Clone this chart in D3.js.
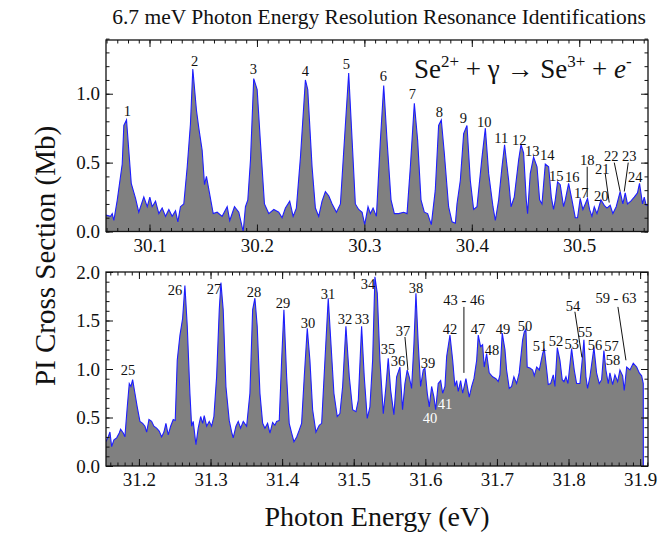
<!DOCTYPE html>
<html>
<head>
<meta charset="utf-8">
<script src="https://cdn.jsdelivr.net/npm/d3@7"></script>
<style>
  body { margin: 0; background: #fff; }
  svg text { font-family: "Liberation Serif", "Times New Roman", serif; fill: #111; }
</style>
</head>
<body>
<svg id="chart" width="660" height="535"></svg>
<script>
(function () {
    "use strict";

    // ---- top panel spectrum (30.06 - 30.56 eV) ----
    var topEnergy = [
        30.0591, 30.0637, 30.0653, 30.0668, 30.0700, 30.0746, 30.0761, 30.0786, 30.0807, 30.0830,
        30.0870, 30.0900, 30.0947, 30.0979, 30.1003, 30.1025, 30.1056, 30.1087, 30.1118, 30.1149,
        30.1180, 30.1211, 30.1242, 30.1264, 30.1288, 30.1319, 30.1351, 30.1381, 30.1403, 30.1437,
        30.1459, 30.1490, 30.1512, 30.1530, 30.1558, 30.1593, 30.1630, 30.1676, 30.1723, 30.1747,
        30.1791, 30.1831, 30.1872, 30.1893, 30.1915, 30.1940, 30.1970, 30.2002, 30.2033, 30.2070,
        30.2110, 30.2157, 30.2203, 30.2234, 30.2265, 30.2305, 30.2337, 30.2367, 30.2405, 30.2451,
        30.2473, 30.2513, 30.2544, 30.2575, 30.2606, 30.2637, 30.2668, 30.2700, 30.2740, 30.2777,
        30.2814, 30.2854, 30.2886, 30.2916, 30.2947, 30.2979, 30.3003, 30.3034, 30.3056, 30.3081,
        30.3112, 30.3149, 30.3180, 30.3211, 30.3248, 30.3279, 30.3319, 30.3366, 30.3397, 30.3428,
        30.3465, 30.3496, 30.3527, 30.3558, 30.3589, 30.3623, 30.3660, 30.3691, 30.3716, 30.3744,
        30.3784, 30.3816, 30.3847, 30.3862, 30.3893, 30.3924, 30.3955, 30.3986, 30.4017, 30.4048,
        30.4095, 30.4126, 30.4157, 30.4197, 30.4219, 30.4250, 30.4281, 30.4305, 30.4343, 30.4365,
        30.4395, 30.4436, 30.4458, 30.4482, 30.4507, 30.4519, 30.4544, 30.4575, 30.4607, 30.4631,
        30.4653, 30.4684, 30.4715, 30.4740, 30.4761, 30.4777, 30.4798, 30.4823, 30.4854, 30.4870,
        30.4901, 30.4932, 30.4963, 30.4984, 30.5009, 30.5034, 30.5056, 30.5077, 30.5096, 30.5118,
        30.5140, 30.5165, 30.5202, 30.5233, 30.5258, 30.5288, 30.5313, 30.5344, 30.5381, 30.5406,
        30.5428, 30.5449, 30.5480, 30.5512, 30.5542, 30.5561, 30.5589, 30.5605, 30.5623, 30.5645
    ];
    var topSignal = [
        0.12, 0.11, 0.13, 0.08, 0.23, 0.49, 0.77, 0.81, 0.59, 0.35,
        0.24, 0.14, 0.25, 0.18, 0.25, 0.18, 0.22, 0.13, 0.17, 0.11,
        0.16, 0.11, 0.15, 0.07, 0.18, 0.20, 0.47, 0.78, 1.18, 0.88,
        0.75, 0.59, 0.34, 0.40, 0.28, 0.13, 0.14, 0.11, 0.18, 0.08,
        0.18, 0.14, 0.00, 0.18, 0.23, 0.52, 1.11, 1.03, 0.64, 0.20,
        0.13, 0.16, 0.14, 0.10, 0.17, 0.22, 0.11, 0.17, 0.54, 1.10,
        1.03, 0.47, 0.17, 0.11, 0.22, 0.29, 0.26, 0.20, 0.14, 0.20,
        0.66, 1.15, 0.66, 0.20, 0.16, 0.14, 0.05, 0.18, 0.13, 0.17,
        0.11, 0.66, 1.06, 0.66, 0.23, 0.13, 0.13, 0.14, 0.13, 0.47,
        0.93, 0.66, 0.23, 0.14, 0.13, 0.05, 0.30, 0.77, 0.81, 0.57,
        0.18, 0.07, 0.06, 0.20, 0.37, 0.71, 0.77, 0.37, 0.16, 0.18,
        0.54, 0.75, 0.42, 0.18, 0.08, 0.23, 0.47, 0.63, 0.37, 0.18,
        0.25, 0.52, 0.63, 0.57, 0.23, 0.13, 0.42, 0.54, 0.47, 0.23,
        0.20, 0.49, 0.47, 0.25, 0.16, 0.23, 0.36, 0.34, 0.18, 0.23,
        0.35, 0.23, 0.10, 0.10, 0.24, 0.16, 0.20, 0.24, 0.16, 0.11,
        0.18, 0.13, 0.23, 0.19, 0.17, 0.19, 0.13, 0.18, 0.29, 0.20,
        0.28, 0.20, 0.22, 0.25, 0.28, 0.35, 0.20, 0.25, 0.19, 0.19
    ];

    // ---- bottom panel spectrum (31.15 - 31.91 eV) ----
    var bottomEnergy = [
        31.1539, 31.1571, 31.1595, 31.1619, 31.1651, 31.1689, 31.1725, 31.1744, 31.1781, 31.1804,
        31.1837, 31.1865, 31.1888, 31.1912, 31.1944, 31.1976, 31.2014, 31.2052, 31.2084, 31.2108,
        31.2140, 31.2177, 31.2209, 31.2247, 31.2283, 31.2317, 31.2349, 31.2377, 31.2409, 31.2443,
        31.2479, 31.2507, 31.2535, 31.2573, 31.2610, 31.2642, 31.2675, 31.2712, 31.2736, 31.2758,
        31.2796, 31.2828, 31.2862, 31.2890, 31.2912, 31.2946, 31.2982, 31.3015, 31.3047, 31.3085,
        31.3122, 31.3145, 31.3177, 31.3215, 31.3261, 31.3295, 31.3317, 31.3355, 31.3387, 31.3420,
        31.3457, 31.3504, 31.3550, 31.3588, 31.3620, 31.3652, 31.3690, 31.3728, 31.3760, 31.3797,
        31.3830, 31.3867, 31.3899, 31.3923, 31.3960, 31.3993, 31.4025, 31.4063, 31.4099, 31.4133,
        31.4165, 31.4203, 31.4239, 31.4272, 31.4309, 31.4351, 31.4388, 31.4426, 31.4472, 31.4518,
        31.4552, 31.4598, 31.4644, 31.4682, 31.4723, 31.4770, 31.4807, 31.4845, 31.4891, 31.4938,
        31.4985, 31.5031, 31.5064, 31.5110, 31.5147, 31.5189, 31.5226, 31.5264, 31.5296, 31.5329,
        31.5366, 31.5413, 31.5450, 31.5482, 31.5516, 31.5561, 31.5599, 31.5645, 31.5682, 31.5715,
        31.5747, 31.5775, 31.5808, 31.5841, 31.5869, 31.5901, 31.5934, 31.5971, 31.5994, 31.6027,
        31.6055, 31.6088, 31.6120, 31.6144, 31.6180, 31.6214, 31.6242, 31.6274, 31.6298, 31.6344,
        31.6382, 31.6413, 31.6437, 31.6460, 31.6493, 31.6522, 31.6567, 31.6613, 31.6647, 31.6679,
        31.6717, 31.6739, 31.6772, 31.6800, 31.6823, 31.6856, 31.6892, 31.6940, 31.6986, 31.7018,
        31.7042, 31.7074, 31.7112, 31.7135, 31.7172, 31.7205, 31.7237, 31.7275, 31.7311, 31.7359,
        31.7381, 31.7405, 31.7423, 31.7461, 31.7499, 31.7521, 31.7555, 31.7592, 31.7639, 31.7661,
        31.7695, 31.7717, 31.7750, 31.7787, 31.7810, 31.7843, 31.7880, 31.7912, 31.7936, 31.7964,
        31.7992, 31.8043, 31.8080, 31.8113, 31.8159, 31.8191, 31.8215, 31.8243, 31.8266, 31.8299,
        31.8355, 31.8392, 31.8429, 31.8462, 31.8494, 31.8522, 31.8555, 31.8578, 31.8616, 31.8648,
        31.8686, 31.8718, 31.8756, 31.8778, 31.8812, 31.8858, 31.8904, 31.8952, 31.8988, 31.9021,
        31.9044, 31.9045
    ];
    var bottomSignal = [
        0.25, 0.30, 0.35, 0.20, 0.27, 0.29, 0.34, 0.38, 0.34, 0.30,
        0.61, 0.85, 0.82, 0.89, 0.75, 0.61, 0.46, 0.44, 0.41, 0.35,
        0.48, 0.46, 0.41, 0.39, 0.36, 0.30, 0.35, 0.44, 0.32, 0.41,
        0.48, 0.47, 1.09, 1.35, 1.52, 1.86, 1.44, 0.75, 0.41, 0.46,
        0.22, 0.39, 0.51, 0.44, 0.52, 0.41, 0.46, 0.41, 0.51, 0.92,
        1.61, 1.89, 1.61, 0.82, 0.47, 0.35, 0.29, 0.41, 0.46, 0.39,
        0.46, 0.41, 0.75, 1.61, 1.73, 1.44, 0.75, 0.44, 0.39, 0.44,
        0.34, 0.45, 0.42, 0.46, 0.47, 1.09, 1.61, 0.92, 0.44, 0.34,
        0.25, 0.30, 0.37, 0.44, 0.92, 1.42, 1.09, 0.58, 0.35, 0.42,
        0.44, 1.09, 1.73, 1.26, 0.75, 0.51, 0.54, 0.82, 1.44, 0.92,
        0.58, 0.56, 0.68, 1.44, 0.92, 0.49, 0.61, 1.09, 1.95, 1.78,
        1.09, 0.54, 0.82, 1.11, 0.78, 0.53, 0.92, 1.02, 0.58, 0.85,
        0.99, 0.92, 0.80, 1.26, 1.78, 1.26, 0.82, 0.99, 1.01, 0.75,
        0.61, 0.82, 0.71, 0.58, 0.85, 0.88, 0.75, 0.82, 1.13, 1.35,
        1.09, 0.82, 0.88, 0.77, 0.88, 0.75, 0.90, 0.71, 0.82, 0.90,
        1.09, 1.35, 1.23, 1.25, 1.02, 1.16, 0.96, 0.92, 0.90, 0.87,
        0.94, 1.37, 1.20, 0.99, 0.80, 0.82, 0.92, 0.85, 0.96, 1.30,
        1.38, 1.41, 1.02, 1.01, 0.99, 0.93, 1.02, 0.99, 1.16, 1.21,
        0.99, 0.84, 0.85, 0.94, 0.82, 1.22, 1.09, 0.89, 0.87, 0.92,
        0.85, 1.21, 0.99, 0.85, 0.85, 1.09, 1.30, 0.92, 0.80, 0.92,
        1.22, 0.96, 0.85, 0.89, 1.19, 0.99, 0.85, 0.96, 0.84, 0.94,
        0.87, 0.99, 0.93, 0.78, 1.02, 0.99, 1.06, 1.02, 0.96, 0.93,
        0.85, 0.00
    ];

    // ---- resonance identifications ----
    var topLabelText = ["1", "2", "3", "4", "5", "6", "7", "8", "9", "10", "11", "12",
        "13", "14", "15", "16", "17", "18", "20", "21", "22", "23", "24"];
    var topLabelEnergy = [30.0795, 30.1419, 30.1967, 30.2451, 30.2833, 30.3177, 30.3447, 30.3698,
        30.3921, 30.4116, 30.4274, 30.4442, 30.4563, 30.4702, 30.4786, 30.4935, 30.5019,
        30.5074, 30.5205, 30.5214, 30.5298, 30.5465, 30.5521];
    var topLabelHeight = [0.84, 1.20, 1.14, 1.13, 1.18, 1.09, 0.96, 0.83, 0.79, 0.76, 0.64, 0.63,
        0.55, 0.52, 0.37, 0.36, 0.24, 0.48, 0.22, 0.42, 0.51, 0.51, 0.36];
    var topLeaders = [
        [30.5074, 0.47, 30.5074, 0.25],
        [30.5242, 0.42, 30.5279, 0.21],
        [30.5326, 0.50, 30.5381, 0.29],
        [30.5456, 0.50, 30.5419, 0.29]
    ];

    var bottomLabelText = ["25", "26", "27", "28", "29", "30", "31", "32", "33", "34", "35", "36",
        "37", "38", "39", "40", "41", "42", "43 - 46", "47", "48", "49", "50", "51", "52", "53",
        "54", "55", "56", "57", "58", "59 - 63"];
    var bottomLabelEnergy = [31.1846, 31.2503, 31.3047, 31.3606, 31.4011, 31.4360, 31.4640, 31.4877,
        31.5115, 31.5198, 31.5478, 31.5617, 31.5687, 31.5869, 31.6036, 31.6064, 31.6274, 31.6344,
        31.6539, 31.6735, 31.6930, 31.7084, 31.7391, 31.7601, 31.7825, 31.8045, 31.8061, 31.8229,
        31.8370, 31.8600, 31.8620, 31.8662];
    var bottomLabelHeight = [0.94, 1.76, 1.77, 1.74, 1.63, 1.42, 1.72, 1.46, 1.46, 1.82, 1.15, 1.03,
        1.34, 1.78, 1.01, 0.44, 0.59, 1.36, 1.66, 1.36, 1.14, 1.36, 1.39, 1.19, 1.24, 1.21,
        1.60, 1.33, 1.20, 1.19, 1.04, 1.68];
    var bottomLabelInside = ["40", "41"];
    var bottomLeaders = [
        [31.5715, 1.33, 31.5757, 0.99],
        [31.6539, 1.64, 31.6539, 0.96],
        [31.8089, 1.59, 31.8187, 1.12],
        [31.8690, 1.64, 31.8802, 1.09]
    ];

    var topXTicks = [30.1, 30.2, 30.3, 30.4, 30.5];
    var bottomXTicks = [31.2, 31.3, 31.4, 31.5, 31.6, 31.7, 31.8, 31.9];
    var topYTicks = [0, 0.5, 1.0];
    var bottomYTicks = [0, 0.5, 1.0, 1.5, 2.0];

    var svg = d3.select('#chart');
    var plotLeft = 106, plotRight = 648;
    var fmt = d3.format('.1f');

    var drawPanel = function (p) {
        var x = d3.scaleLinear().domain(p.xDomain).range([plotLeft, plotRight]);
        var y = d3.scaleLinear().domain(p.yDomain).range([p.bottom, p.top]);
        var $g = svg.append('g');

        var clipId = 'clip-' + p.name;
        svg.append('clipPath').attr('id', clipId)
            .append('rect')
            .attr('x', plotLeft).attr('y', p.top)
            .attr('width', plotRight - plotLeft).attr('height', p.bottom - p.top);

        var pts = p.energy.map(function (e, i) { return [e, p.signal[i]]; });
        var area = d3.area()
            .x(function (d) { return x(d[0]); })
            .y0(y(0))
            .y1(function (d) { return y(d[1]); });
        var line = d3.line()
            .x(function (d) { return x(d[0]); })
            .y(function (d) { return y(d[1]); });

        var $data = $g.append('g').attr('clip-path', 'url(#' + clipId + ')');
        $data.append('path').attr('d', area(pts)).attr('fill', '#808080');
        $data.append('path').attr('d', line(pts))
            .attr('fill', 'none').attr('stroke', '#1d1dff').attr('stroke-width', 1.1);

        // minor ticks (inward on all four sides)
        var xMinor = d3.range(Math.ceil(p.xDomain[0] * 100), Math.floor(p.xDomain[1] * 100) + 1)
            .map(function (k) { return k / 100; });
        var yMinor = d3.range(0, Math.round(p.yDomain[1] * 10) + 1).map(function (k) { return k / 10; });

        var addAxis = function (axis, tr) {
            var $a = $g.append('g').attr('transform', tr).call(axis);
            $a.select('.domain').remove();
            $a.selectAll('line').attr('stroke', '#111').attr('stroke-width', 1);
            return $a;
        };
        addAxis(d3.axisBottom(x).tickValues(xMinor).tickSize(-3.5).tickFormat(''), 'translate(0,' + p.bottom + ')');
        addAxis(d3.axisTop(x).tickValues(xMinor).tickSize(-3.5).tickFormat(''), 'translate(0,' + p.top + ')');
        addAxis(d3.axisLeft(y).tickValues(yMinor).tickSize(-3.5).tickFormat(''), 'translate(' + plotLeft + ',0)');
        addAxis(d3.axisRight(y).tickValues(yMinor).tickSize(-3.5).tickFormat(''), 'translate(' + plotRight + ',0)');

        var $xb = addAxis(d3.axisBottom(x).tickValues(p.xTicks).tickSize(-7).tickPadding(7).tickFormat(fmt),
            'translate(0,' + p.bottom + ')');
        addAxis(d3.axisTop(x).tickValues(p.xTicks).tickSize(-7).tickFormat(''), 'translate(0,' + p.top + ')');
        var $yl = addAxis(d3.axisLeft(y).tickValues(p.yTicks).tickSize(-7).tickPadding(6).tickFormat(fmt),
            'translate(' + plotLeft + ',0)');
        addAxis(d3.axisRight(y).tickValues(p.yTicks).tickSize(-7).tickFormat(''), 'translate(' + plotRight + ',0)');

        $xb.selectAll('text').attr('font-size', 19).attr('fill', '#111')
            .attr('font-family', '"Liberation Serif", serif');
        $yl.selectAll('text').attr('font-size', 19).attr('fill', '#111')
            .attr('font-family', '"Liberation Serif", serif');

        $g.append('rect')
            .attr('x', plotLeft).attr('y', p.top)
            .attr('width', plotRight - plotLeft).attr('height', p.bottom - p.top)
            .attr('fill', 'none').attr('stroke', '#111').attr('stroke-width', 1.3);

        // peak labels
        p.labelText.forEach(function (t, i) {
            var inside = p.inside && p.inside.indexOf(t) >= 0;
            $g.append('text')
                .attr('x', x(p.labelEnergy[i]))
                .attr('y', y(p.labelHeight[i]))
                .attr('text-anchor', 'middle')
                .attr('font-size', 14.5)
                .style('fill', inside ? '#fff' : '#111')
                .text(t);
        });
        p.leaders.forEach(function (l) {
            $g.append('line')
                .attr('x1', x(l[0])).attr('y1', y(l[1]))
                .attr('x2', x(l[2])).attr('y2', y(l[3]))
                .attr('stroke', '#111').attr('stroke-width', 1);
        });
        return {x: x, y: y, g: $g};
    };

    drawPanel({
        name: 'top', top: 40, bottom: 231.5,
        xDomain: [30.0595, 30.564], yDomain: [0, 1.39],
        energy: topEnergy, signal: topSignal,
        xTicks: topXTicks, yTicks: topYTicks,
        labelText: topLabelText, labelEnergy: topLabelEnergy, labelHeight: topLabelHeight,
        leaders: topLeaders
    });

    drawPanel({
        name: 'bottom', top: 272, bottom: 466,
        xDomain: [31.154, 31.911], yDomain: [0, 2.0],
        energy: bottomEnergy, signal: bottomSignal,
        xTicks: bottomXTicks, yTicks: bottomYTicks,
        labelText: bottomLabelText, labelEnergy: bottomLabelEnergy, labelHeight: bottomLabelHeight,
        inside: bottomLabelInside, leaders: bottomLeaders
    });

    // title and axis titles
    svg.append('text')
        .attr('x', 379).attr('y', 24)
        .attr('text-anchor', 'middle')
        .attr('font-size', 21.5)
        .text('6.7 meV Photon Energy Resolution Resonance Identifications');

    svg.append('text')
        .attr('x', 377).attr('y', 526)
        .attr('text-anchor', 'middle')
        .attr('font-size', 28)
        .text('Photon Energy (eV)');

    svg.append('text')
        .attr('transform', 'translate(55,256) rotate(-90)')
        .attr('text-anchor', 'middle')
        .attr('font-size', 29)
        .text('PI Cross Section (Mb)');

    // reaction equation
    var $eq = svg.append('text')
        .attr('x', 414).attr('y', 78)
        .attr('font-size', 27);
    $eq.append('tspan').text('Se');
    $eq.append('tspan').attr('dy', -11).attr('font-size', 17).text('2+');
    $eq.append('tspan').attr('dy', 11).text(' + \u03B3 \u2192 Se');
    $eq.append('tspan').attr('dy', -11).attr('font-size', 17).text('3+');
    $eq.append('tspan').attr('dy', 11).text(' + ');
    $eq.append('tspan').attr('font-style', 'italic').text('e');
    $eq.append('tspan').attr('dy', -11).attr('font-size', 17).text('-');
})();
</script>
</body>
</html>
